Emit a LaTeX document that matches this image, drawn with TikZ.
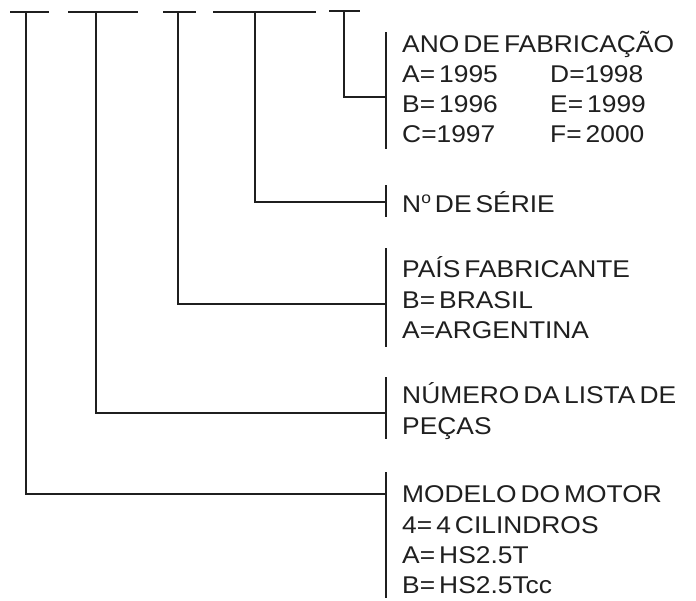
\documentclass[tikz,border=0pt]{standalone}
\usepackage{fontspec}
\usepackage{graphicx}
\setmainfont{Liberation Sans}[WordSpace=0.55]
\newcommand{\wide}[1]{\scalebox{1.09}[1]{#1}}
\newcommand{\ordo}{\raisebox{8.6pt}{\fontsize{16}{16}\selectfont o}}
\begin{document}
\begin{tikzpicture}[x=1pt,y=-1pt,
  ln/.style={line width=2.4pt,color=black!88},
  lbl/.style={anchor=base west,inner sep=0pt,font=\fontsize{24.2}{30}\selectfont,text=black!88}]
\useasboundingbox (0,0) rectangle (696,600);
% top bars
\coordinate (b1l) at (10,12); \coordinate (b1r) at (49,12); \coordinate (s1) at (26,12);
\coordinate (b2l) at (68,12); \coordinate (b2r) at (138,12); \coordinate (s2) at (96,12);
\coordinate (b3l) at (163,12); \coordinate (b3r) at (196,12); \coordinate (s3) at (178,12);
\coordinate (b4l) at (213,12); \coordinate (b4r) at (316,12); \coordinate (s4) at (255,12);
\coordinate (b5l) at (329,11); \coordinate (b5r) at (360,11); \coordinate (s5) at (344,11);
\foreach \i in {1,...,5} {\draw[ln] (b\i l) -- (b\i r);}
% brackets
\coordinate (k5t) at (386,32);  \coordinate (k5b) at (386,149); \coordinate (k5m) at (386,97);
\coordinate (k4t) at (386,185); \coordinate (k4b) at (386,217); \coordinate (k4m) at (386,202);
\coordinate (k3t) at (386,248); \coordinate (k3b) at (386,347); \coordinate (k3m) at (386,304);
\coordinate (k2t) at (386,377); \coordinate (k2b) at (386,439); \coordinate (k2m) at (386,413);
\coordinate (k1t) at (386,472); \coordinate (k1b) at (386,598); \coordinate (k1m) at (386,494);
\foreach \i in {1,...,5} {\draw[ln] (k\i t) -- (k\i b);}
% connectors
\foreach \i in {1,...,5} {\draw[ln] (s\i) |- (k\i m);}
% texts
\node[lbl] (t5a) at (402,52) {\wide{ANO DE FABRICAÇÃO}};
\node[lbl] (t5b) at (402,82) {\wide{A= 1995}};
\node[lbl] (t5c) at (402,112) {\wide{B= 1996}};
\node[lbl] (t5d) at (402,142) {\wide{C=1997}};
\node[lbl] (t5e) at (550,82) {\wide{D=1998}};
\node[lbl] (t5f) at (550,112) {\wide{E= 1999}};
\node[lbl] (t5g) at (550,142) {\wide{F= 2000}};
\node[lbl] (t4a) at (402,212) {\wide{N\ordo\ DE SÉRIE}};
\node[lbl] (t3a) at (402,277) {\wide{PAÍS FABRICANTE}};
\node[lbl] (t3b) at (402,308) {\wide{B= BRASIL}};
\node[lbl] (t3c) at (402,338) {\wide{A=ARGENTINA}};
\node[lbl] (t2a) at (402,403) {\wide{NÚMERO DA LISTA DE}};
\node[lbl] (t2b) at (402,434) {\wide{PEÇAS}};
\node[lbl] (t1a) at (402,502) {\wide{MODELO DO MOTOR}};
\node[lbl] (t1b) at (402,533) {\wide{4= 4 CILINDROS}};
\node[lbl] (t1c) at (402,563) {\wide{A= HS2.5T}};
\node[lbl] (t1d) at (402,593) {\wide{B= HS2.5Tcc}};
\end{tikzpicture}
\end{document}
